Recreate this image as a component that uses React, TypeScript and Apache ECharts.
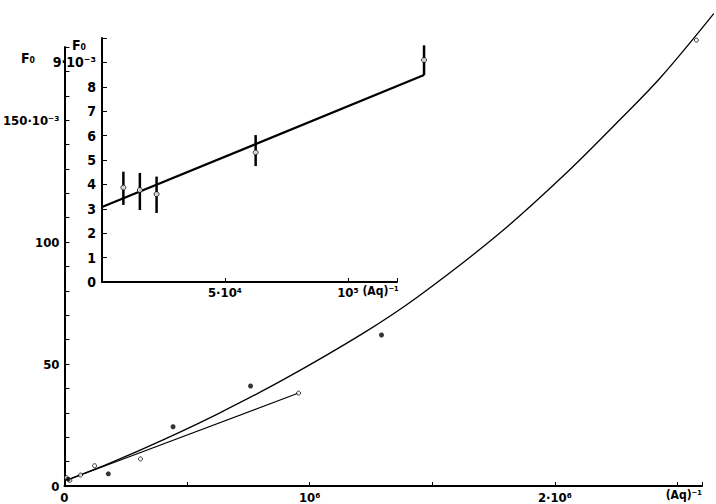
import React, { useEffect, useRef } from "react";
import * as echarts from "echarts";

// Main chart: F0 (10^-3) versus (Aq)^-1
const curvePoints: [number, number][] = [
  [0.012e6, 2.5], [0.2e6, 10.0], [0.4e6, 18.8], [0.63e6, 29.8], [0.9e6, 44.0],
  [1.224e6, 63.0], [1.44e6, 77.5], [1.767e6, 103.0], [2.038e6, 127.5],
  [2.268e6, 150.5], [2.431e6, 167.5], [2.648e6, 193.7],
];
const straightLine: [number, number][] = [[0.012e6, 2.5], [0.955e6, 38.1]];
const openPoints: [number, number][] = [
  [0.008e6, 3.4], [0.022e6, 2.3], [0.066e6, 4.5], [0.123e6, 8.3],
  [0.31e6, 11.1], [0.955e6, 38.1], [2.577e6, 182.8],
];
const filledPoints: [number, number][] = [
  [0.015e6, 2.8], [0.179e6, 5.0], [0.443e6, 24.3], [0.759e6, 41.0], [1.293e6, 61.9],
];

// Inset: F0 (10^-3) versus (Aq)^-1 with error bars
const insetX = [8.7e3, 15.4e3, 22.2e3, 62.5e3, 131e3];
const insetY = [3.87, 3.77, 3.6, 5.31, 9.1];
const insetLow = [3.16, 2.95, 2.83, 4.75, 8.48];
const insetHigh = [4.52, 4.47, 4.32, 6.02, 9.7];
const insetLine: [number, number][] = [[0, 3.07], [131e3, 8.48]];

const mainXLabels: Record<number, string> = { 0: "0", 1000000: "10⁶", 2000000: "2·10⁶" };
const mainYLabels: Record<number, string> = { 0: "0", 50: "50", 100: "100", 150: "150·10⁻³" };
const insetXLabels: Record<number, string> = { 50000: "5·10⁴", 100000: "10⁵" };
const insetYLabels: Record<number, string> = {
  0: "0", 1: "1", 2: "2", 3: "3", 4: "4", 5: "5", 6: "6", 7: "7", 8: "8", 9: "9·10⁻³",
};

const FONT = "'DejaVu Sans Condensed', 'DejaVu Sans', sans-serif";
const txt = { color: "#000", fontFamily: FONT, fontWeight: "bold" as const, fontSize: 13 };

function curveSeries(points: [number, number][], xi: number, width: number, smooth: number) {
  return {
    type: "custom", xAxisIndex: xi, yAxisIndex: xi, clip: false, silent: true,
    data: [[points[0][0], points[0][1]]],
    renderItem: (_params: any, api: any) => ({
      type: "polyline",
      shape: { points: points.map((p) => api.coord(p)), smooth },
      style: { stroke: "#000", lineWidth: width, fill: "none" },
    }),
  };
}

export default function App() {
  const ref = useRef<HTMLDivElement>(null);
  useEffect(() => {
    if (!ref.current) return;
    const chart = echarts.init(ref.current, undefined, { renderer: "svg" });
    const axisLine = { show: true, onZero: false, lineStyle: { color: "#000", width: 2 } };
    chart.setOption({
      animation: false,
      backgroundColor: "#fff",
      grid: [
        { left: 62, top: 47, width: 640, height: 439 },
        { left: 102, top: 38, width: 295, height: 244 },
      ],
      xAxis: [
        {
          type: "value", gridIndex: 0, min: 0, max: 2.6e6, interval: 0.5e6,
          axisLine, splitLine: { show: false },
          axisTick: { show: true, inside: true, length: 4, lineStyle: { color: "#000" } },
          axisLabel: { ...txt, margin: 5, formatter: (v: number) => mainXLabels[v] ?? "" },
          name: "(Aq)⁻¹", nameLocation: "end", nameGap: 0,
          nameTextStyle: { ...txt, fontSize: 12, align: "right", verticalAlign: "top", padding: [3, 0, 0, 0] },
        },
        {
          type: "value", gridIndex: 1, min: 0, max: 1.2e5, interval: 5e4,
          axisLine, splitLine: { show: false },
          axisTick: { show: true, inside: true, length: 4, lineStyle: { color: "#000" } },
          axisLabel: { ...txt, margin: 4, formatter: (v: number) => insetXLabels[v] ?? "" },
          name: "(Aq)⁻¹", nameLocation: "end", nameGap: 0,
          nameTextStyle: { ...txt, fontSize: 12, align: "right", verticalAlign: "top", padding: [3, 0, 0, 0] },
        },
      ],
      yAxis: [
        {
          type: "value", gridIndex: 0, min: 0, max: 180, interval: 10,
          axisLine, splitLine: { show: false },
          axisTick: { show: true, inside: true, length: 5, lineStyle: { color: "#000" } },
          axisLabel: { ...txt, margin: 5, formatter: (v: number) => mainYLabels[v] ?? "" },
        },
        {
          type: "value", gridIndex: 1, min: 0, max: 10, interval: 1,
          axisLine, splitLine: { show: false },
          axisTick: { show: true, inside: true, length: 5, lineStyle: { color: "#000" } },
          axisLabel: { ...txt, fontSize: 14, margin: 6, formatter: (v: number) => insetYLabels[v] ?? "" },
        },
      ],
      graphic: [
        { type: "text", left: 21, top: 51, style: { text: "F₀", font: `bold 14px ${FONT}`, fill: "#000" } },
        { type: "text", left: 72, top: 38, style: { text: "F₀", font: `bold 14px ${FONT}`, fill: "#000" } },
      ],
      series: [
        curveSeries(curvePoints, 0, 1.3, 0.35),
        curveSeries(straightLine, 0, 1.1, 0),
        {
          type: "scatter", xAxisIndex: 0, yAxisIndex: 0, data: openPoints, symbol: "circle",
          symbolSize: 4, clip: false,
          itemStyle: { color: "#fff", borderColor: "#000", borderWidth: 1 },
        },
        {
          type: "scatter", xAxisIndex: 0, yAxisIndex: 0, data: filledPoints, symbol: "circle",
          symbolSize: 5, clip: false, itemStyle: { color: "#000" },
        },
        curveSeries(insetLine, 1, 2.2, 0),
        {
          type: "custom", xAxisIndex: 1, yAxisIndex: 1, clip: false,
          data: insetX.map((x, i) => [x, insetLow[i], insetHigh[i]]),
          renderItem: (_params: any, api: any) => {
            const lo = api.coord([api.value(0), api.value(1)]);
            const hi = api.coord([api.value(0), api.value(2)]);
            return {
              type: "line",
              shape: { x1: lo[0], y1: lo[1], x2: hi[0], y2: hi[1] },
              style: { stroke: "#000", lineWidth: 2.5 },
            };
          },
        },
        {
          type: "scatter", xAxisIndex: 1, yAxisIndex: 1, clip: false,
          data: insetX.map((x, i) => [x, insetY[i]]), symbol: "circle", symbolSize: 5,
          itemStyle: { color: "#fff", borderColor: "#000", borderWidth: 1 },
          z: 5,
        },
      ],
    });
    return () => chart.dispose();
  }, []);
  return (
    <div
      ref={ref}
      style={{ position: "fixed", left: 0, top: 0, width: 716, height: 504, background: "#fff" }}
    />
  );
}
